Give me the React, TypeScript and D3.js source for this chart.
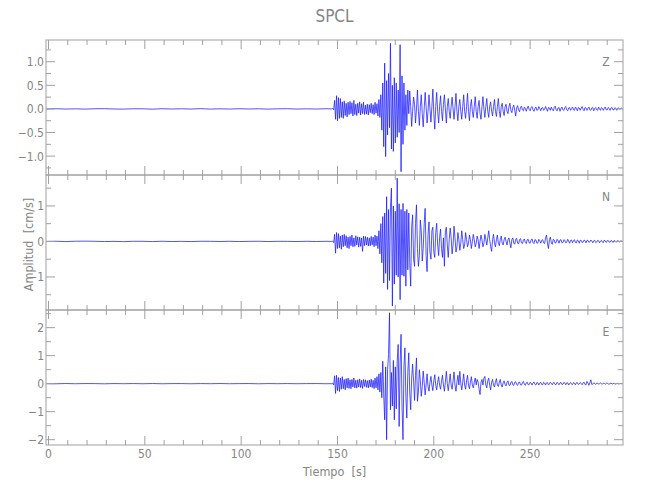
import React from 'react';
import * as d3 from 'd3';

// ---------- text ----------
const TITLE = 'SPCL';
const X_LABEL = 'Tiempo  [s]';
const Y_LABEL = 'Amplitud  [cm/s]';
const COMPONENTS = ['Z', 'N', 'E'];

// ---------- axes ----------
const X_RANGE = [-1.3, 298.2];
const X_TICKS = [0, 50, 100, 150, 200, 250];
const X_MINOR_STEP = 10;

const Z_RANGE = [-1.4, 1.46];
const Z_TICKS = [-1, -0.5, 0, 0.5, 1];
const Z_TICK_LABELS = ['\u22121.0', '\u22120.5', '0.0', '0.5', '1.0'];
const Z_MINOR_STEP = 0.25;

const N_RANGE = [-1.93, 1.87];
const N_TICKS = [-1, 0, 1];
const N_TICK_LABELS = ['\u22121', '0', '1'];
const N_MINOR_STEP = 0.5;

const E_RANGE = [-2.19, 2.63];
const E_TICKS = [-2, -1, 0, 1, 2];
const E_TICK_LABELS = ['\u22122', '\u22121', '0', '1', '2'];
const E_MINOR_STEP = 0.5;

// ---------- sampling ----------
const PRE_START = -1;
const PRE_DT = 5;
const MAIN_START = 147;
const MAIN_DT = 0.5;

// ---------- Z component (cm/s) ----------
const zPre = [0.0, 0.004, -0.003, 0.002, -0.004, 0.003, 0.005, -0.002, -0.004, 0.003, 0.002, -0.005, 0.004, -0.002, 0.003,
  -0.003, 0.006, -0.004, 0.002, -0.003, 0.004, -0.002, 0.003, -0.004, 0.002, 0.004, -0.003, 0.002, -0.003, 0.004];
const zMain = [
  0.0, 0.01, -0.02, 0.18, -0.22, 0.28, -0.25, 0.24, -0.2, 0.22,
  -0.18, 0.15, -0.2, 0.17, -0.14, 0.12, -0.17, 0.14, -0.12, 0.16,
  -0.1, 0.13, -0.15, 0.18, -0.12, 0.1, -0.14, 0.12, -0.09, 0.15,
  -0.13, 0.11, -0.1, 0.14, -0.12, 0.08, -0.11, 0.1, -0.13, 0.09,
  -0.08, 0.12, -0.1, 0.09, -0.12, 0.14, -0.09, 0.11, -0.15, 0.2,
  -0.18, 0.3, -0.45, 0.55, -0.8, 0.97, -1.01, 0.6, -0.55, 0.75,
  -0.4, 1.39, -0.85, 0.5, -0.9, 0.66, -0.72, 0.55, -0.6, 0.4,
  -0.5, 1.36, -1.33, 0.7, -0.75, 0.55, -0.45, 0.3, -0.35, 0.4,
  -0.1, 0.38, 0.05, -0.37, -0.05, 0.25, 0.1, -0.3, 0.0, 0.4,
  -0.05, -0.35, 0.05, 0.3, -0.1, -0.38, 0.0, 0.35, 0.05, -0.3,
  -0.05, 0.3, 0.0, -0.28, 0.05, 0.42, -0.1, -0.43, 0.05, 0.35,
  -0.05, -0.3, 0.05, 0.28, -0.05, -0.25, 0.1, 0.3, 0.0, -0.3,
  0.05, 0.22, -0.05, -0.2, 0.05, 0.25, 0.0, -0.22, 0.05, 0.33,
  -0.05, -0.25, 0.05, 0.2, -0.05, -0.22, 0.05, 0.3, -0.05, -0.2,
  0.05, 0.33, -0.05, -0.25, 0.05, 0.2, -0.05, -0.18, 0.05, 0.26,
  -0.05, -0.2, 0.05, 0.18, -0.1, -0.22, 0.05, 0.26, 0.0, -0.18,
  0.05, 0.22, -0.05, -0.18, 0.05, 0.15, -0.05, -0.15, 0.05, 0.2,
  -0.05, -0.16, 0.05, 0.22, -0.05, -0.18, 0.05, 0.12, -0.05, -0.14,
  0.05, 0.1, -0.05, -0.1, 0.05, 0.12, -0.03, -0.08, 0.03, 0.08,
  -0.03, -0.15, 0.02, 0.07, -0.02, -0.06, 0.03, 0.06, -0.02, -0.04,
  0.04, 0.01, -0.05, 0.02, 0.06, -0.01, -0.04, 0.03, 0.05, -0.02,
  -0.05, 0.01, 0.04, -0.03, -0.02, 0.05, 0.01, -0.04, 0.02, 0.03,
  -0.03, -0.01, 0.05, 0.0, -0.05, 0.03, 0.02, -0.03, 0.04, -0.01,
  -0.04, 0.03, 0.06, -0.02, -0.04, 0.02, 0.03, -0.05, 0.01, 0.04,
  -0.02, -0.03, 0.03, 0.05, -0.02, -0.04, 0.02, 0.03, -0.03, 0.01,
  0.04, -0.02, -0.03, 0.04, 0.01, -0.04, 0.03, 0.02, -0.03, 0.02,
  0.05, -0.01, -0.04, 0.03, 0.02, -0.03, 0.01, 0.04, -0.02, -0.03,
  0.02, 0.03, -0.04, 0.01, 0.03, -0.02, -0.03, 0.04, 0.0, -0.03,
  0.03, 0.01, -0.03, 0.02, 0.04, -0.02, -0.02, 0.03, 0.01, -0.03,
  0.02, 0.03, -0.02, -0.02, 0.03, 0.01, -0.03, 0.02, 0.02, -0.01,
  0.01, 0.02, -0.01,
];

// ---------- N component (cm/s) ----------
const nPre = [0.0, 0.005, -0.004, 0.006, 0.008, 0.004, -0.003, 0.002, -0.005, 0.004, 0.003, -0.004, 0.005, -0.003, 0.002,
  -0.004, 0.005, 0.003, -0.002, 0.004, -0.003, 0.002, 0.005, -0.004, 0.003, 0.002, -0.003, 0.004, -0.002, 0.003];
const nMain = [
  0.0, 0.01, -0.03, 0.2, -0.33, 0.25, -0.2, 0.22, -0.18, 0.15,
  -0.22, 0.18, -0.15, 0.2, -0.12, 0.16, -0.18, 0.12, -0.2, 0.14,
  -0.12, 0.18, -0.15, 0.1, -0.14, 0.16, -0.1, 0.13, -0.16, 0.12,
  -0.14, 0.1, -0.28, 0.15, -0.12, 0.14, -0.1, 0.12, -0.13, 0.1,
  -0.12, 0.14, -0.1, 0.12, -0.15, 0.18, -0.12, 0.15, -0.2, 0.3,
  -0.35, 0.5, -0.6, 0.7, -1.17, 0.8, -0.9, 1.26, -1.35, 0.9,
  -1.1, 0.95, 1.5, -1.82, 1.0, -1.2, 0.85, -0.95, 1.78, -1.0,
  1.06, -1.64, 0.9, -0.95, 1.07, -0.98, 0.85, -1.26, 0.9, -0.8,
  0.8, -0.6, -1.26, 0.4, 0.75, -0.5, -0.7, 0.5, 1.03, -0.2,
  -0.7, -0.4, 0.6, 0.3, -0.55, -0.2, 0.5, 0.93, -0.4, -0.85,
  0.2, 0.55, -0.3, -0.5, 0.3, 0.4, -0.3, -0.45, 0.25, 0.51,
  -0.1, -0.4, 0.1, 0.35, -0.2, -0.45, 0.1, -0.7, 0.3, 0.4,
  -0.1, -0.45, 0.05, 0.38, 0.1, -0.35, -0.1, 0.43, 0.1, -0.3,
  -0.15, 0.25, 0.05, -0.25, -0.05, 0.3, 0.05, -0.2, -0.1, 0.25,
  0.05, -0.15, -0.05, 0.18, 0.05, -0.2, 0.0, 0.2, 0.05, -0.15,
  -0.05, 0.15, 0.05, -0.2, 0.0, 0.18, 0.05, -0.15, -0.05, 0.2,
  0.05, -0.1, 0.1, 0.3, 0.05, -0.15, -0.28, 0.05, 0.2, -0.05,
  -0.15, 0.05, 0.18, -0.05, -0.12, 0.05, 0.15, -0.05, -0.1, 0.05,
  0.12, 0.0, -0.1, 0.05, 0.1, -0.05, -0.18, 0.05, 0.1, -0.05,
  -0.08, 0.06, 0.09, -0.05, -0.07, 0.05, 0.08, -0.04, -0.06, 0.04,
  0.07, -0.03, -0.06, 0.05, 0.06, -0.04, -0.05, 0.04, 0.07, -0.03,
  -0.06, 0.05, 0.04, -0.05, -0.04, 0.06, 0.02, -0.05, 0.03, 0.05,
  -0.04, -0.06, 0.1, 0.18, -0.05, -0.2, 0.05, 0.12, -0.05, -0.08,
  0.06, 0.04, -0.05, -0.03, 0.06, 0.02, -0.05, 0.04, 0.05, -0.04,
  -0.03, 0.05, 0.03, -0.04, -0.02, 0.06, 0.01, -0.05, 0.03, 0.04,
  -0.04, 0.02, 0.05, -0.03, -0.04, 0.04, 0.02, -0.05, 0.03, 0.03,
  -0.03, -0.02, 0.04, 0.02, -0.04, 0.03, 0.03, -0.03, -0.01, 0.04,
  0.01, -0.04, 0.02, 0.03, -0.03, -0.02, 0.03, 0.02, -0.04, 0.01,
  0.03, -0.02, -0.03, 0.04, 0.01, -0.03, 0.02, 0.03, -0.02, -0.02,
  0.03, 0.01, -0.03, 0.02, 0.02, -0.02, -0.01, 0.03, 0.0, -0.02,
  0.02, 0.01, 0.0,
];

// ---------- E component (cm/s) ----------
const ePre = [0.0, -0.004, 0.005, -0.003, 0.004, 0.002, -0.005, 0.003, -0.002, 0.004, -0.003, 0.005, -0.004, 0.002, 0.003,
  -0.004, 0.003, -0.002, 0.005, -0.003, 0.002, 0.004, -0.005, 0.003, -0.002, 0.004, -0.003, 0.002, 0.004, -0.003];
const eMain = [
  0.0, 0.02, -0.05, 0.28, -0.35, 0.3, -0.25, 0.22, -0.28, 0.2,
  -0.2, 0.25, -0.18, 0.15, -0.22, 0.18, -0.15, 0.2, -0.17, 0.14,
  -0.18, 0.15, -0.12, 0.2, -0.15, 0.12, -0.16, 0.14, -0.12, 0.17,
  -0.14, 0.12, -0.17, 0.15, -0.1, 0.14, -0.13, 0.11, -0.15, 0.13,
  -0.12, 0.16, -0.14, 0.12, -0.18, 0.2, -0.15, 0.25, -0.22, 0.35,
  -0.3, 0.4, -0.5, 0.8, -0.4, -1.29, 0.6, -2.0, 0.5, 1.04,
  2.53, -0.93, 0.4, -0.8, 0.83, -1.29, 0.6, -0.9, 0.8, 1.4,
  -1.53, 0.7, 1.76, -0.8, -2.0, 0.6, 1.28, -0.5, -1.23, 0.4,
  1.1, -0.3, -0.93, 0.2, 0.7, 0.1, -0.6, 0.3, 0.92, -0.63,
  -0.3, 0.5, 0.1, -0.45, -0.1, 0.45, 0.05, -0.4, -0.05, 0.35,
  -0.1, -0.27, 0.05, 0.26, -0.05, -0.25, 0.1, 0.32, -0.05, -0.22,
  0.05, 0.25, -0.05, -0.2, 0.1, 0.3, -0.05, -0.27, 0.05, 0.44,
  0.0, -0.25, 0.05, 0.35, -0.05, -0.2, 0.1, 0.42, -0.05, -0.27,
  0.05, 0.3, -0.05, 0.44, 0.0, -0.22, 0.05, 0.35, -0.05, -0.2,
  0.1, 0.3, -0.05, -0.18, 0.05, 0.25, -0.05, -0.15, 0.05, 0.2,
  -0.05, 0.15, 0.05, -0.2, -0.39, 0.05, 0.15, -0.05, 0.2, 0.26,
  -0.05, -0.15, 0.1, 0.2, -0.05, -0.22, 0.05, 0.15, -0.05, -0.12,
  0.05, 0.18, -0.05, -0.1, 0.05, 0.15, -0.05, -0.12, 0.03, 0.1,
  -0.03, -0.08, 0.05, 0.1, -0.05, -0.07, 0.04, 0.08, -0.04, -0.06,
  0.05, 0.07, -0.03, -0.06, 0.04, 0.06, -0.04, -0.05, 0.03, 0.08,
  -0.02, -0.06, 0.03, 0.05, -0.04, -0.03, 0.05, 0.02, -0.05, 0.03,
  0.06, -0.02, -0.05, 0.04, 0.03, -0.05, 0.02, 0.05, -0.03, -0.04,
  0.05, 0.02, -0.05, 0.03, 0.04, -0.04, -0.02, 0.05, 0.01, -0.04,
  0.03, 0.04, -0.03, -0.03, 0.05, 0.01, -0.04, 0.03, 0.04, -0.03,
  -0.02, 0.05, 0.02, -0.04, 0.03, 0.03, -0.05, 0.01, 0.04, -0.02,
  -0.03, 0.04, 0.02, -0.04, 0.03, 0.04, -0.03, -0.01, 0.04, 0.01,
  -0.04, 0.03, 0.05, -0.03, -0.04, 0.08, 0.02, -0.06, 0.03, 0.14,
  -0.03, -0.02, 0.03, 0.01, -0.03, 0.02, 0.02, -0.02, -0.01, 0.03,
  0.0, -0.02, 0.02, 0.01, -0.02, 0.01, 0.02, -0.01, -0.02, 0.01,
  0.02, -0.01, -0.01, 0.02, 0.0, -0.02, 0.01, 0.01, -0.01, 0.0,
  0.01, 0.0, 0.0,
];

// ---------- layout ----------
const W = 650;
const H = 500;
const LEFT = 46;
const RIGHT = 623;
const PANEL_TOPS = [40, 175, 310];
const PANEL_H = 135;
const MAJOR = 9;
const MINOR = 5;
const FONT = "'DejaVu Sans Condensed', 'Liberation Sans Narrow', sans-serif";
const TEXT = '#858585';
const AXIS = '#a0a0a0';
const TRACE = '#1a1aff';

const panels = [
  { name: COMPONENTS[0], range: Z_RANGE, ticks: Z_TICKS, labels: Z_TICK_LABELS, minor: Z_MINOR_STEP, pre: zPre, main: zMain },
  { name: COMPONENTS[1], range: N_RANGE, ticks: N_TICKS, labels: N_TICK_LABELS, minor: N_MINOR_STEP, pre: nPre, main: nMain },
  { name: COMPONENTS[2], range: E_RANGE, ticks: E_TICKS, labels: E_TICK_LABELS, minor: E_MINOR_STEP, pre: ePre, main: eMain },
];

export default function App() {
  const x = d3.scaleLinear().domain(X_RANGE).range([LEFT, RIGHT]);
  const xMinor = d3.range(0, X_RANGE[1], X_MINOR_STEP).filter((v) => !X_TICKS.includes(v));
  const textStyle = { fontStretch: 'condensed' as const, whiteSpace: 'pre' as const };

  return (
    <svg width={W} height={H} style={{ position: 'absolute', left: 0, top: 0, background: '#fff' }}>
      <rect x={0} y={0} width={W} height={H} fill="#fff" />
      <text x={(LEFT + RIGHT) / 2} y={22} textAnchor="middle" fontFamily={FONT} fontSize={17} fill={TEXT} style={textStyle}>
        {TITLE}
      </text>
      {panels.map((p, pi) => {
        const top = PANEL_TOPS[pi];
        const bottom = top + PANEL_H;
        const y = d3.scaleLinear().domain(p.range).range([bottom, top]);
        const pts: [number, number][] = [
          ...p.pre.map((v, i) => [PRE_START + i * PRE_DT, v] as [number, number]),
          ...p.main.map((v, i) => [MAIN_START + i * MAIN_DT, v] as [number, number]),
        ];
        const line = d3
          .line<[number, number]>()
          .x((d) => x(d[0]))
          .y((d) => y(d[1]));
        const yMinorVals = d3
          .range(Math.ceil(p.range[0] / p.minor) * p.minor, p.range[1] + 1e-9, p.minor)
          .filter((v) => !p.ticks.some((t) => Math.abs(t - v) < 1e-6));
        return (
          <g key={p.name}>
            <path d={line(pts) || ''} fill="none" stroke={TRACE} strokeWidth={0.75} strokeLinejoin="round" />
            <rect x={LEFT} y={top} width={RIGHT - LEFT} height={PANEL_H} fill="none" stroke={AXIS} strokeWidth={1} />
            {X_TICKS.map((t) => (
              <g key={'xt' + t}>
                <line x1={x(t)} x2={x(t)} y1={top} y2={top + MAJOR} stroke={AXIS} />
                <line x1={x(t)} x2={x(t)} y1={bottom} y2={bottom - MAJOR} stroke={AXIS} />
              </g>
            ))}
            {xMinor.map((t) => (
              <g key={'xm' + t}>
                <line x1={x(t)} x2={x(t)} y1={top} y2={top + MINOR} stroke={AXIS} />
                <line x1={x(t)} x2={x(t)} y1={bottom} y2={bottom - MINOR} stroke={AXIS} />
              </g>
            ))}
            {p.ticks.map((t, ti) => (
              <g key={'yt' + t}>
                <line x1={LEFT} x2={LEFT + MAJOR} y1={y(t)} y2={y(t)} stroke={AXIS} />
                <line x1={RIGHT} x2={RIGHT - MAJOR} y1={y(t)} y2={y(t)} stroke={AXIS} />
                <text x={LEFT - 2} y={y(t) + 4.5} textAnchor="end" fontFamily={FONT} fontSize={12} fill={TEXT} style={textStyle}>
                  {p.labels[ti]}
                </text>
              </g>
            ))}
            {yMinorVals.map((t) => (
              <g key={'ym' + t}>
                <line x1={LEFT} x2={LEFT + MINOR} y1={y(t)} y2={y(t)} stroke={AXIS} />
                <line x1={RIGHT} x2={RIGHT - MINOR} y1={y(t)} y2={y(t)} stroke={AXIS} />
              </g>
            ))}
            <text x={606} y={top + 26} textAnchor="middle" fontFamily={FONT} fontSize={12} fill={TEXT} style={textStyle}>
              {p.name}
            </text>
          </g>
        );
      })}
      {X_TICKS.map((t) => (
        <text key={'xl' + t} x={x(t)} y={458} textAnchor="middle" fontFamily={FONT} fontSize={12} fill={TEXT} style={textStyle}>
          {t}
        </text>
      ))}
      <text x={(LEFT + RIGHT) / 2} y={476} textAnchor="middle" fontFamily={FONT} fontSize={12.5} fill={TEXT} style={textStyle}>
        {X_LABEL}
      </text>
      <text
        transform={`translate(33, ${PANEL_TOPS[1] + PANEL_H / 2 + 2}) rotate(-90)`}
        textAnchor="middle"
        fontFamily={FONT}
        fontSize={12.5}
        fill={TEXT}
        style={textStyle}
      >
        {Y_LABEL}
      </text>
    </svg>
  );
}
